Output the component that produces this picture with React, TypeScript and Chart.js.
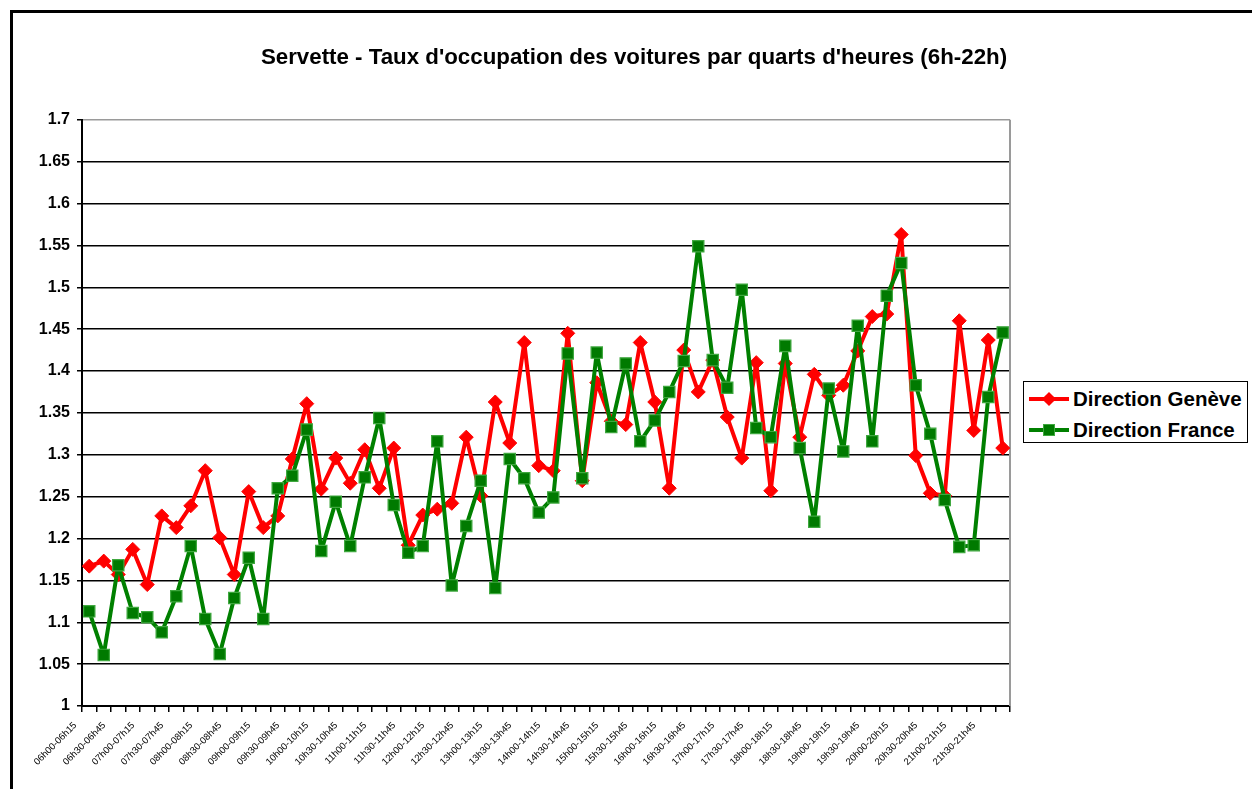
import React, { useEffect, useRef } from "react";
import { Chart, registerables } from "chart.js";

Chart.register(...registerables);

const chartTitle = "Servette - Taux d'occupation des voitures par quarts d'heures (6h-22h)";

const timeSlots = [
  "06h00-06h15", "06h15-06h30", "06h30-06h45", "06h45-07h00",
  "07h00-07h15", "07h15-07h30", "07h30-07h45", "07h45-08h00",
  "08h00-08h15", "08h15-08h30", "08h30-08h45", "08h45-09h00",
  "09h00-09h15", "09h15-09h30", "09h30-09h45", "09h45-10h00",
  "10h00-10h15", "10h15-10h30", "10h30-10h45", "10h45-11h00",
  "11h00-11h15", "11h15-11h30", "11h30-11h45", "11h45-12h00",
  "12h00-12h15", "12h15-12h30", "12h30-12h45", "12h45-13h00",
  "13h00-13h15", "13h15-13h30", "13h30-13h45", "13h45-14h00",
  "14h00-14h15", "14h15-14h30", "14h30-14h45", "14h45-15h00",
  "15h00-15h15", "15h15-15h30", "15h30-15h45", "15h45-16h00",
  "16h00-16h15", "16h15-16h30", "16h30-16h45", "16h45-17h00",
  "17h00-17h15", "17h15-17h30", "17h30-17h45", "17h45-18h00",
  "18h00-18h15", "18h15-18h30", "18h30-18h45", "18h45-19h00",
  "19h00-19h15", "19h15-19h30", "19h30-19h45", "19h45-20h00",
  "20h00-20h15", "20h15-20h30", "20h30-20h45", "20h45-21h00",
  "21h00-21h15", "21h15-21h30", "21h30-21h45", "21h45-22h00",
];

const directionGeneve = [
  1.167, 1.173, 1.157, 1.187, 1.145, 1.227, 1.213, 1.239,
  1.281, 1.201, 1.157, 1.256, 1.213, 1.227, 1.295, 1.361,
  1.259, 1.296, 1.266, 1.306, 1.260, 1.308, 1.192, 1.228,
  1.235, 1.242, 1.321, 1.251, 1.363, 1.314, 1.434, 1.287,
  1.281, 1.445, 1.269, 1.386, 1.340, 1.336, 1.434, 1.363,
  1.260, 1.425, 1.375, 1.413, 1.345, 1.296, 1.410, 1.257,
  1.409, 1.321, 1.396, 1.371, 1.383, 1.424, 1.465, 1.468,
  1.563, 1.299, 1.254, 1.251, 1.460, 1.329, 1.437, 1.308,
];

const directionFrance = [
  1.113, 1.061, 1.168, 1.111, 1.106, 1.088, 1.131, 1.191,
  1.104, 1.062, 1.129, 1.177, 1.104, 1.260, 1.275, 1.330,
  1.185, 1.244, 1.191, 1.273, 1.344, 1.240, 1.183, 1.191,
  1.316, 1.144, 1.215, 1.269, 1.141, 1.295, 1.272, 1.231,
  1.249, 1.421, 1.272, 1.422, 1.333, 1.409, 1.316, 1.341,
  1.375, 1.412, 1.549, 1.413, 1.380, 1.497, 1.332, 1.321,
  1.430, 1.308, 1.220, 1.379, 1.304, 1.454, 1.316, 1.490,
  1.529, 1.383, 1.325, 1.246, 1.190, 1.192, 1.369, 1.446,
];

const seriesNames = ["Direction Genève", "Direction France"];
const seriesColors = ["#ff0000", "#008000"];

const yMin = 1;
const yMax = 1.7;
const yStep = 0.05;

const FONT = "'Liberation Sans', Arial, sans-serif";

const plotFramePlugin = {
  id: "plotFrame",
  beforeDatasetsDraw(chart: any) {
    const { ctx, chartArea } = chart;
    ctx.save();
    ctx.strokeStyle = "#9a9a9a";
    ctx.lineWidth = 2;
    ctx.beginPath();
    ctx.moveTo(chartArea.right, chartArea.top);
    ctx.lineTo(chartArea.right, chartArea.bottom);
    ctx.stroke();
    ctx.restore();
  },
};

export default function App() {
  const canvasRef = useRef<HTMLCanvasElement | null>(null);

  useEffect(() => {
    const canvas = canvasRef.current;
    if (!canvas) return;
    const chart = new Chart(canvas, {
      type: "line",
      data: {
        labels: timeSlots,
        datasets: [
          {
            label: seriesNames[0],
            data: directionGeneve,
            borderColor: seriesColors[0],
            backgroundColor: seriesColors[0],
            borderWidth: 4,
            borderJoinStyle: "round",
            tension: 0,
            pointStyle: "rectRot",
            pointRadius: 7,
            pointBorderWidth: 1,
            pointBackgroundColor: seriesColors[0],
            pointBorderColor: seriesColors[0],
            order: 1,
            yAxisID: "y",
          },
          {
            label: seriesNames[1],
            data: directionFrance,
            borderColor: seriesColors[1],
            backgroundColor: seriesColors[1],
            borderWidth: 4,
            borderJoinStyle: "round",
            tension: 0,
            pointStyle: "rect",
            pointRadius: 8,
            pointBorderWidth: 1.2,
            pointBackgroundColor: "#007a00",
            pointBorderColor: "#3fa83f",
            order: 0,
            yAxisID: "y",
          },
        ],
      },
      options: {
        responsive: false,
        animation: false,
        layout: { padding: { left: 16, right: 0, top: 0, bottom: 0 } },
        plugins: {
          legend: { display: false },
          tooltip: { enabled: false },
          title: {
            display: true,
            text: chartTitle,
            color: "#000",
            font: { family: FONT, size: 22.3, weight: "bold", lineHeight: 1.2 },
            padding: { top: 44, bottom: 49 },
          },
        },
        scales: {
          x: {
            type: "category",
            offset: true,
            grid: {
              offset: true,
              drawOnChartArea: false,
              drawTicks: true,
              tickLength: 6,
              color: "#000",
              tickColor: "#000",
              lineWidth: 1.5,
            },
            border: { display: true, color: "#000", width: 2 },
            ticks: {
              autoSkip: false,
              minRotation: 45,
              maxRotation: 45,
              color: "#000",
              padding: 8,
              labelOffset: -14,
              font: { family: FONT, size: 9.5 },
              callback: (_v: any, i: number) => (i % 2 === 0 ? timeSlots[i] : ""),
            },
            afterFit: (scale: any) => {
              scale.height = 83;
            },
          },
          y: {
            type: "linear",
            position: "left",
            min: yMin,
            max: yMax,
            grid: {
              color: (ctx: any) =>
                ctx.tick && Math.abs(ctx.tick.value - yMax) < 1e-9 ? "#9a9a9a" : "#000",
              tickColor: "#000",
              lineWidth: 1.5,
              tickLength: 5,
              drawTicks: true,
            },
            border: { display: true, color: "#000", width: 2 },
            ticks: {
              stepSize: yStep,
              color: "#000",
              padding: 7,
              font: { family: FONT, size: 16, weight: "bold" },
              callback: (v: any) => String(Number(Number(v).toFixed(2))),
            },
            afterFit: (scale: any) => {
              scale.width = 66;
            },
          },
          y2: {
            type: "linear",
            position: "right",
            min: 0,
            max: 1,
            grid: { display: false, drawTicks: false },
            border: { display: false },
            ticks: { display: false },
            afterFit: (scale: any) => {
              scale.width = 242;
            },
          },
        },
      },
      plugins: [plotFramePlugin],
    });
    return () => chart.destroy();
  }, []);

  const legendRow = (name: string, color: string, marker: "diamond" | "square") => (
    <div style={{ display: "flex", alignItems: "center", height: 31 }}>
      <div style={{ position: "relative", width: 40, height: 20, marginRight: 4 }}>
        <div
          style={{
            position: "absolute",
            left: 0,
            top: 8,
            width: 40,
            height: 4,
            background: color,
          }}
        />
        {marker === "diamond" ? (
          <div
            style={{
              position: "absolute",
              left: 15,
              top: 5,
              width: 10,
              height: 10,
              background: color,
              transform: "rotate(45deg)",
            }}
          />
        ) : (
          <div
            style={{
              position: "absolute",
              left: 14,
              top: 4,
              width: 10,
              height: 10,
              background: "#007a00",
              border: "1px solid #3fa83f",
            }}
          />
        )}
      </div>
      <span
        style={{
          fontFamily: FONT,
          fontWeight: "bold",
          fontSize: 20.5,
          color: "#000",
          whiteSpace: "nowrap",
        }}
      >
        {name}
      </span>
    </div>
  );

  return (
    <div style={{ position: "fixed", left: 0, top: 0, right: 0, bottom: 0, overflow: "hidden", background: "#fff" }}>
      <div
        style={{
          position: "absolute",
          left: 10,
          top: 10,
          width: 1300,
          height: 900,
          border: "3px solid #000",
          boxSizing: "border-box",
        }}
      />
      <canvas
        ref={canvasRef}
        width={1252}
        height={789}
        style={{ position: "absolute", left: 0, top: 0, width: 1252, height: 789 }}
      />
      <div
        style={{
          position: "absolute",
          left: 1023,
          top: 381,
          width: 225,
          height: 62,
          border: "1px solid #000",
          boxSizing: "border-box",
          background: "#fff",
          paddingLeft: 5,
          paddingTop: 1,
        }}
      >
        {legendRow(seriesNames[0], seriesColors[0], "diamond")}
        {legendRow(seriesNames[1], seriesColors[1], "square")}
      </div>
    </div>
  );
}
